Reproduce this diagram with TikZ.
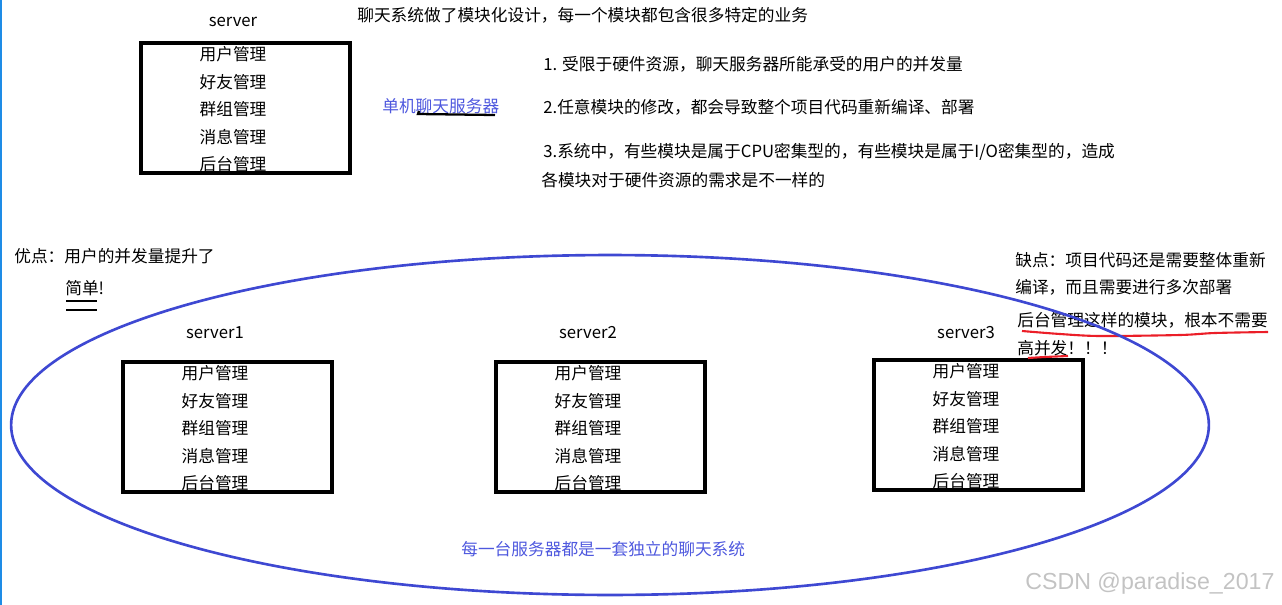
\documentclass[tikz,border=0pt]{standalone}
\usepackage{fontspec}
\setmainfont{Noto Sans CJK SC}
\newfontfamily\markfont{Liberation Sans}
\definecolor{ellblue}{RGB}{62,72,210}
\definecolor{txtblue}{RGB}{78,88,222}
\definecolor{edgeblue}{RGB}{30,140,230}
\definecolor{markgray}{RGB}{195,195,195}
\definecolor{penred}{RGB}{235,30,40}
\tikzset{
  txt/.style={anchor=west,inner sep=0pt,font=\fontsize{9.5}{11}\selectfont},
  item/.style={inner sep=0pt,font=\fontsize{9.5}{11}\selectfont},
  srvbox/.style={draw,line width=1.9pt,inner sep=0pt,minimum width=4.18cm,minimum height=2.6cm},
}
\begin{document}
\begin{tikzpicture}[x=0.02cm,y=-0.02cm]
\useasboundingbox (0,0) rectangle (1282,605);
\draw[edgeblue,line width=1pt] (1,0)--(1,605);
% servers
\foreach \n/\lx/\ty/\lab/\ly in {0/141/43/server/22,1/123/362/server1/333,2/496/362/server2/333,3/874/360/server3/333}{
  \node[item] (name\n) at (\lx+92,\ly) {\lab};
  \foreach \m [count=\i from 0] in {用户管理,好友管理,群组管理,消息管理,后台管理}
    \node[item] (mod\n-\i) at (\lx+92,\ty+11.5+27.5*\i) {\m};
  \node[srvbox] (box\n) at (\lx+104.5,\ty+65) {};
}
\node[txt] (title) at (357,15) {聊天系统做了模块化设计，每一个模块都包含很多特定的业务};
\node[txt,txtblue] (single) at (382,106) {单机聊天服务器};
\draw[line width=1.3pt] (419,111)--(418,114)--(495,115);
\node[txt] (p1) at (543,64) {1. 受限于硬件资源，聊天服务器所能承受的用户的并发量};
\node[txt] (p2) at (543,107) {2.任意模块的修改，都会导致整个项目代码重新编译、部署};
\node[txt] (p3) at (543,152) {3.系统中，有些模块是属于CPU密集型的，有些模块是属于I/O密集型的，造成};
\node[txt] (p3b) at (541,180) {各模块对于硬件资源的需求是不一样的};
% pros / cons
\node[txt] (pro) at (14,256) {优点：用户的并发量提升了};
\node[txt] (pro2) at (65,288) {简单!};
\draw[line width=0.6pt] (66,301)--(97,301);
\draw[line width=1.2pt] (66,310)--(97,310);
\node[txt] (con1) at (1015,260) {缺点：项目代码还是需要整体重新};
\node[txt] (con2) at (1015,287) {编译，而且需要进行多次部署};
\node[txt] (con3) at (1017,320) {后台管理这样的模块，根本不需要};
\node[txt] (con4) at (1017,348) {高并发！！！};
\draw[penred,line width=1.2pt] plot[smooth] coordinates {(1022,331) (1060,334) (1100,336) (1180,335) (1215,333) (1268,332)};
\draw[penred,line width=1.2pt] plot[smooth] coordinates {(1028,358) (1045,357) (1068,356)};
% cluster
\draw[ellblue,line width=1.5pt] (610,425) ellipse [x radius=11.98cm,y radius=3.4cm];
\node[txt,txtblue] (each) at (461,549) {每一台服务器都是一套独立的聊天系统};
\node[anchor=west,inner sep=0pt,markgray,font=\markfont\fontsize{13.2}{15}\selectfont] (mark) at (1025,583) {CSDN @paradise\_2017};
\end{tikzpicture}
\end{document}
